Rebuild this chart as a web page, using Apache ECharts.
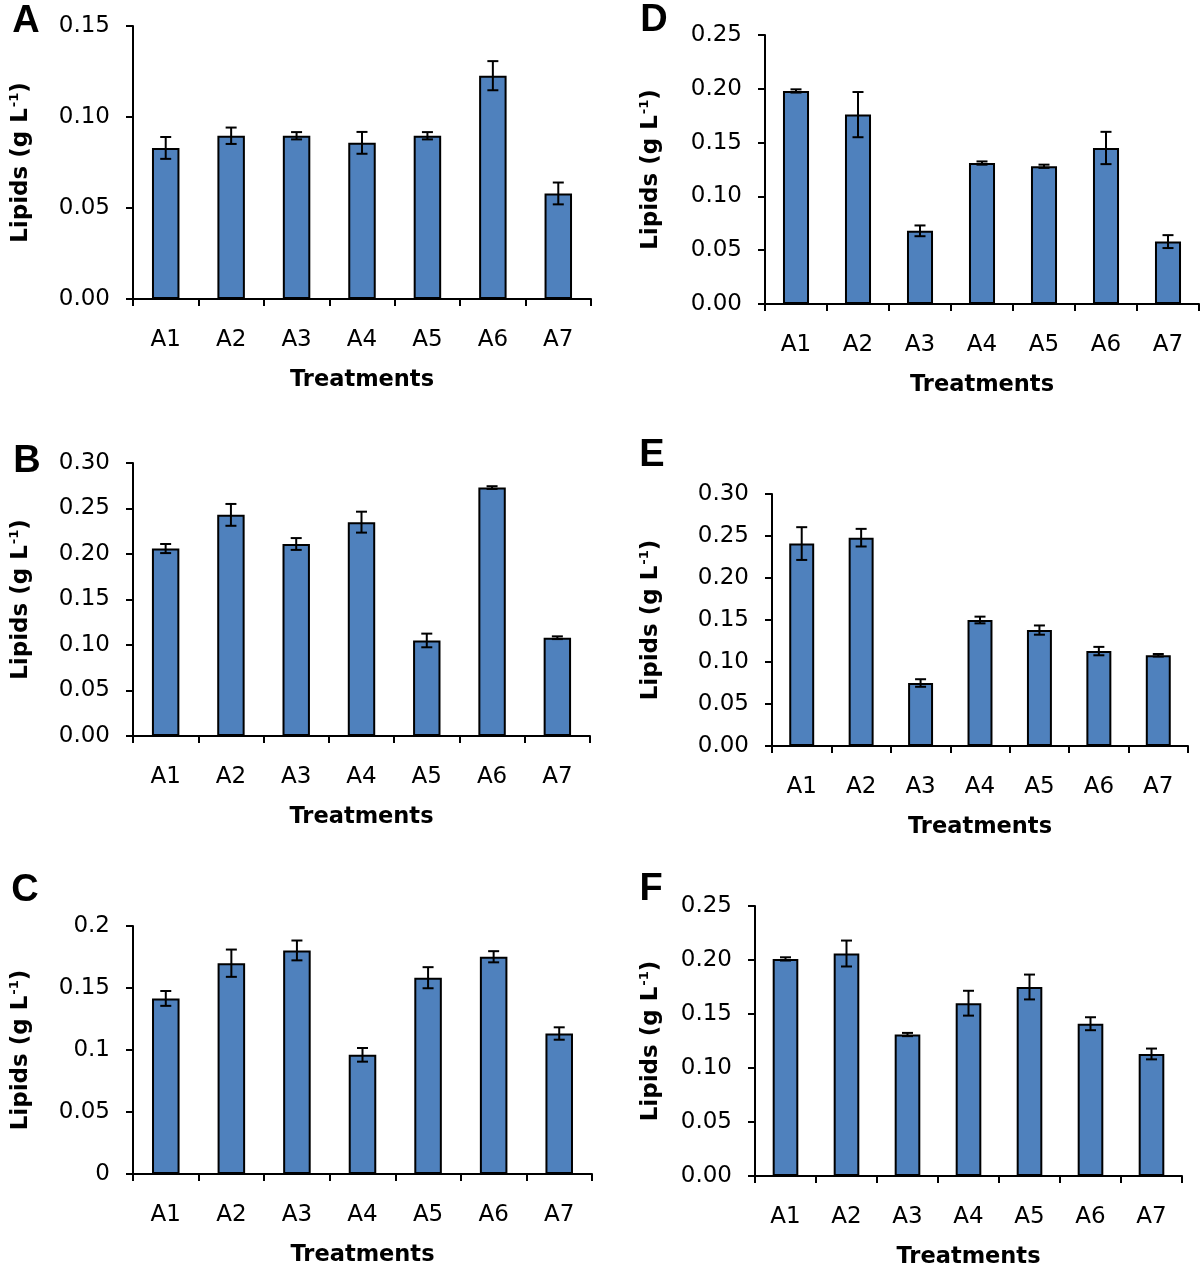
<!DOCTYPE html>
<html>
<head>
<meta charset="utf-8">
<script src="https://cdn.jsdelivr.net/npm/echarts@6/dist/echarts.min.js"></script>
<style>
html,body{margin:0;padding:0;background:#fff;}
#chart{width:1200px;height:1272px;}
</style>
</head>
<body>
<div id="chart"></div>
<script>
// ---- data ----
const categories = ['A1','A2','A3','A4','A5','A6','A7'];

const valsA = [0.083, 0.0897, 0.0897, 0.0858, 0.0897, 0.1227, 0.058];
const errA  = [0.006, 0.0045, 0.002, 0.006, 0.002, 0.008, 0.006];

const valsB = [0.206, 0.243, 0.211, 0.235, 0.105, 0.273, 0.108];
const errB  = [0.005, 0.012, 0.0065, 0.0115, 0.0075, 0.0015, 0.0015];

const valsC = [0.1416, 0.170, 0.1803, 0.0961, 0.1583, 0.1752, 0.1133];
const errC  = [0.006, 0.011, 0.008, 0.0055, 0.0085, 0.0045, 0.005];

const valsD = [0.198, 0.176, 0.068, 0.131, 0.128, 0.145, 0.058];
const errD  = [0.0015, 0.021, 0.005, 0.0015, 0.0015, 0.015, 0.006];

const valsE = [0.241, 0.248, 0.075, 0.150, 0.138, 0.113, 0.108];
const errE  = [0.0195, 0.0105, 0.0045, 0.004, 0.0055, 0.005, 0.0015];

const valsF = [0.201, 0.206, 0.131, 0.160, 0.175, 0.141, 0.113];
const errF  = [0.0015, 0.012, 0.0015, 0.0115, 0.0115, 0.006, 0.005];

const panelLetters = ['A','B','C','D','E','F'];
const yMaxes    = [0.15, 0.30, 0.2, 0.25, 0.30, 0.25];
const yInterval = 0.05;
const yDecimals = [2, 2, null, 2, 2, 2];   // null = plain number format (panel C)
const xTitle = 'Treatments';

// ---- layout ----
const panels = [
  {vals: valsA, err: errA, grid: {left:133, top:26,  width:458, height:273}, letter:[26,22],  titleX:22},
  {vals: valsB, err: errB, grid: {left:133, top:463, width:457, height:273}, letter:[27,462], titleX:22},
  {vals: valsC, err: errC, grid: {left:133, top:926, width:459, height:248}, letter:[25,891], titleX:22},
  {vals: valsD, err: errD, grid: {left:765, top:35,  width:434, height:269}, letter:[654,21], titleX:652},
  {vals: valsE, err: errE, grid: {left:772, top:494, width:416, height:252}, letter:[652,456], titleX:652},
  {vals: valsF, err: errF, grid: {left:755, top:906, width:427, height:270}, letter:[651,890], titleX:652}
];

const FONT = 'DejaVu Sans';
const BAR = '#4F81BD';

const grids = [], xAxes = [], yAxes = [], series = [], graphics = [];

panels.forEach((p, i) => {
  grids.push(Object.assign({containLabel:false}, p.grid));
  xAxes.push({
    type: 'category', gridIndex: i, data: categories,
    axisLine: {lineStyle: {color:'#000', width:2}},
    axisTick: {show:true, length:7, lineStyle:{color:'#000', width:2}},
    axisLabel: {color:'#000', fontFamily:FONT, fontSize:23, margin:30},
    name: xTitle, nameLocation:'middle', nameGap:70,
    nameTextStyle: {color:'#000', fontFamily:FONT, fontSize:22.5, fontWeight:'bold'}
  });
  const dec = yDecimals[i];
  yAxes.push({
    type: 'value', gridIndex: i, min: 0, max: yMaxes[i], interval: yInterval,
    axisLine: {show:true, lineStyle: {color:'#000', width:2}},
    axisTick: {show:true, length:7, lineStyle:{color:'#000', width:2}},
    splitLine: {show:false},
    axisLabel: {color:'#000', fontFamily:FONT, fontSize:23, margin:23,
      formatter: v => dec === null ? String(+v.toFixed(2)) : v.toFixed(dec)},
    name: '{t|Lipids (g L}{s|-1}{t|)}',
    nameLocation: 'middle', nameRotate: 90,
    nameGap: p.grid.left - p.titleX - 12,
    nameTextStyle: {
      rich: {
        t: {color:'#000', fontFamily:FONT, fontSize:23, fontWeight:'bold', lineHeight:26},
        s: {color:'#000', fontFamily:FONT, fontSize:13, fontWeight:'bold', verticalAlign:'top', lineHeight:26, padding:[0,0,0,1]}
      }
    }
  });
  series.push({
    type: 'bar', xAxisIndex: i, yAxisIndex: i, data: p.vals,
    barWidth: '42%',
    itemStyle: {color: BAR, borderColor:'#000', borderWidth:2},
    silent: true
  });
  series.push({
    type: 'custom', xAxisIndex: i, yAxisIndex: i, z: 5, silent: true,
    data: p.vals.map((v, k) => [k, v, p.err[k]]),
    renderItem: function (params, api) {
      const k = api.value(0), v = api.value(1), e = api.value(2);
      const top = api.coord([k, v + e]);
      const bot = api.coord([k, v - e]);
      const hw = 5.5;
      const st = {stroke:'#000', lineWidth:2};
      return {type:'group', children:[
        {type:'line', shape:{x1:top[0], y1:top[1], x2:bot[0], y2:bot[1]}, style:st},
        {type:'line', shape:{x1:top[0]-hw, y1:top[1], x2:top[0]+hw, y2:top[1]}, style:st},
        {type:'line', shape:{x1:bot[0]-hw, y1:bot[1], x2:bot[0]+hw, y2:bot[1]}, style:st}
      ]};
    }
  });
  graphics.push({
    type:'text', x: p.letter[0], y: p.letter[1],
    style: {text: panelLetters[i], fill:'#000', font:'bold 38px "Liberation Sans", Arial, sans-serif',
            align:'center', verticalAlign:'middle'}
  });
});

const chart = echarts.init(document.getElementById('chart'), null, {renderer:'canvas'});
chart.setOption({
  animation: false,
  backgroundColor: '#fff',
  grid: grids, xAxis: xAxes, yAxis: yAxes, series: series,
  graphic: graphics
});
</script>
</body>
</html>
